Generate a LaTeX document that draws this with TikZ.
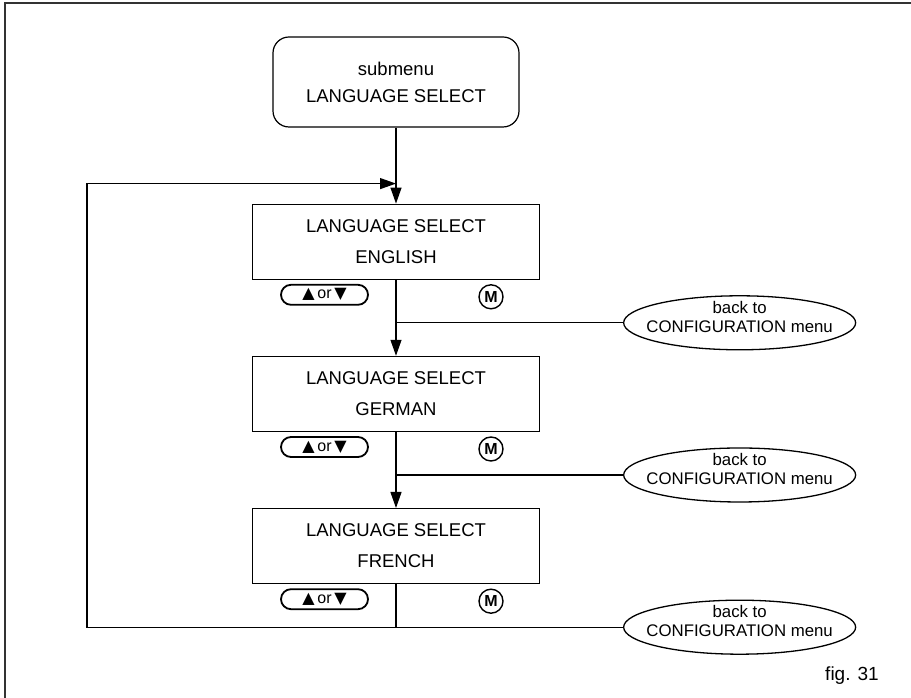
\documentclass[tikz,border=0pt]{standalone}
\usepackage{fontspec}
\setmainfont{Liberation Sans}
\newfontfamily\symfont{DejaVu Sans}
\usetikzlibrary{shapes,arrows.meta,positioning,calc}

\newcommand{\updown}{{\symfont\fontsize{16}{16}\selectfont ▲}\,or\,{\symfont\fontsize{16}{16}\selectfont ▼}}

\tikzset{
  menubox/.style={draw, line width=1.2pt, minimum width=287pt, minimum height=75pt, inner sep=0pt, align=center, font=\fontsize{18.5}{31}\selectfont},
  subbox/.style={draw, rounded corners=16pt, line width=1.2pt, minimum width=246pt, minimum height=90pt, inner sep=0pt, align=center, font=\fontsize{18.5}{27}\selectfont},
  backnode/.style={ellipse, draw, line width=1.3pt, minimum width=232pt, minimum height=54pt, inner xsep=-14pt, inner ysep=-8pt, text depth=12pt, align=center, font=\fontsize{16.8}{19}\selectfont},
  keynode/.style={draw, rounded corners=10pt, line width=1.8pt, minimum width=87pt, minimum height=20pt, inner sep=0pt, font=\fontsize{16}{16}\selectfont},
  mkey/.style={circle, draw, line width=1.4pt, minimum size=24pt, inner sep=0pt, font=\bfseries\fontsize{16}{16}\selectfont},
  flow/.style={line width=1.2pt},
  arr/.style={flow, -{Triangle[length=16pt,width=11pt]}}
}

\begin{document}
\begin{tikzpicture}[x=1pt, y=1pt]
  \useasboundingbox (0,0) rectangle (911,698);
  \draw[line width=2pt, black!80] (5,0) -- (5,695) -- (911,695);

  % menu boxes
  \node[subbox] (sub) at (396,616) {submenu\\LANGUAGE SELECT};
  \node[menubox, below=76pt of sub] (english) {LANGUAGE SELECT\\ENGLISH};
  \node[menubox, below=76pt of english] (german) {LANGUAGE SELECT\\GERMAN};
  \node[menubox, below=76pt of german] (french) {LANGUAGE SELECT\\FRENCH};

  % keys under each box
  \node[keynode] (keyE) at ($(english.south)+(-71.5,-15)$) {\updown};
  \node[mkey] (mE) at ($(english.south)+(95,-17)$) {M};
  \node[keynode] (keyG) at ($(german.south)+(-71.5,-15)$) {\updown};
  \node[mkey] (mG) at ($(german.south)+(95,-17)$) {M};
  \node[keynode] (keyF) at ($(french.south)+(-71.5,-15)$) {\updown};
  \node[mkey] (mF) at ($(french.south)+(95,-17)$) {M};

  % exits to the configuration menu
  \coordinate (jE) at ($(english.south)+(0,-43)$);
  \coordinate (jG) at ($(german.south)+(0,-43)$);
  \coordinate (jF) at ($(french.south)+(0,-43)$);
  \node[backnode, right=227pt of jE] (backE) {back to\\CONFIGURATION menu};
  \node[backnode, right=227pt of jG] (backG) {back to\\CONFIGURATION menu};
  \node[backnode, right=227pt of jF] (backF) {back to\\CONFIGURATION menu};

  \coordinate (merge) at ($(sub.south)+(0,-56)$);

  \draw[arr] (sub) -- (english);
  \draw[arr] (english) -- (german);
  \draw[arr] (german) -- (french);
  \draw[flow] (jE) -- (backE);
  \draw[flow] (jG) -- (backG);
  \draw[flow] (french) -- (jF) -- (backF);
  \draw[arr] (jF) -- ++(-309,0) |- (merge);

  \node[font=\fontsize{19}{19}\selectfont] (fig) at (852,22) {fig. 31};
\end{tikzpicture}
\end{document}
